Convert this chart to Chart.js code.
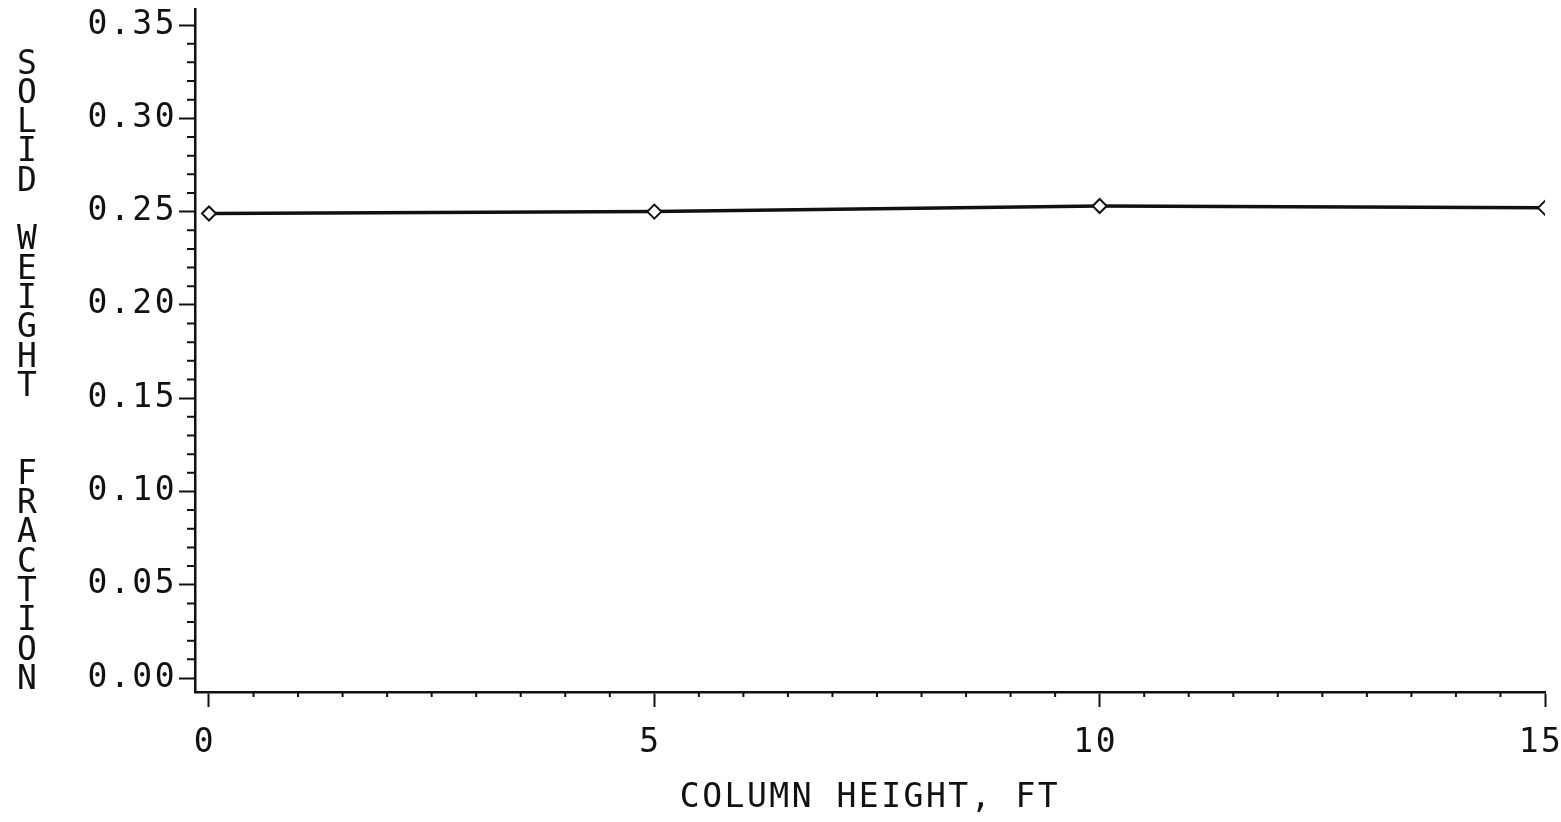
<!DOCTYPE html>
<html>
<head>
<meta charset="utf-8">
<script src="https://cdn.jsdelivr.net/npm/chart.js@4/dist/chart.umd.min.js"></script>
<style>
    html, body { margin: 0; padding: 0; background: #fff; }
    #wrap { width: 1561px; height: 822px; }
</style>
</head>
<body>
<div id="wrap"><canvas id="chart1"></canvas></div>
<script>
    'use strict';

    // values
    var columnHeight = [0, 5, 10, 15];
    var solidFraction = [0.249, 0.250, 0.253, 0.252];

    var xMajorTicks = [0, 5, 10, 15];
    var yMajorTicks = [0, 0.05, 0.10, 0.15, 0.20, 0.25, 0.30, 0.35];
    var xMinorStep = 0.5;
    var yMinorStep = 0.01;

    var yTitleRows = ['S', 'O', 'L', 'I', 'D', '', 'W', 'E', 'I', 'G', 'H', 'T', '', '',
        'F', 'R', 'A', 'C', 'T', 'I', 'O', 'N'];
    var xTitle = 'COLUMN HEIGHT, FT';

    var ink = '#111';
    var fontFamily = '"DejaVu Sans Mono", monospace';

    var points = [];
    for (var i = 0; i < columnHeight.length; i++) {
        points.push({x: columnHeight[i], y: solidFraction[i]});
    }

    function isMajor(v, list) {
        for (var k = 0; k < list.length; k++) {
            if (Math.abs(list[k] - v) < 1e-6) {
                return true;
            }
        }
        return false;
    }

    // wide plotter lettering, short minor ticks, stacked y title
    var plotterDecor = {
        id: 'plotterDecor',
        beforeDraw: function (chart) {
            chart.ctx.letterSpacing = '2.5px';
        },
        afterDraw: function (chart) {
            var ctx = chart.ctx,
                xs = chart.scales.x,
                ys = chart.scales.y,
                area = chart.chartArea,
                v, p;
            ctx.save();
            ctx.strokeStyle = ink;
            ctx.lineWidth = 2;
            ctx.beginPath();
            for (v = yMinorStep; v < 0.35 + 1e-6; v += yMinorStep) {
                if (isMajor(v, yMajorTicks)) continue;
                p = ys.getPixelForValue(v);
                ctx.moveTo(area.left - 8, p);
                ctx.lineTo(area.left, p);
            }
            for (v = xMinorStep; v < 15; v += xMinorStep) {
                if (isMajor(v, xMajorTicks)) continue;
                p = xs.getPixelForValue(v);
                ctx.moveTo(p, area.bottom);
                ctx.lineTo(p, area.bottom + 5);
            }
            ctx.stroke();

            ctx.letterSpacing = '0px';
            ctx.fillStyle = ink;
            ctx.font = '33px ' + fontFamily;
            ctx.textAlign = 'center';
            ctx.textBaseline = 'middle';
            for (var r = 0; r < yTitleRows.length; r++) {
                ctx.fillText(yTitleRows[r], 27, 65 + r * 29.3);
            }
            ctx.restore();
        }
    };

    var ctx = document.getElementById('chart1');
    new Chart(ctx, {
        type: 'line',
        data: {
            datasets: [{
                data: points,
                borderColor: ink,
                borderWidth: 3.5,
                tension: 0,
                fill: false,
                pointStyle: 'rectRot',
                pointRadius: 7,
                pointBorderWidth: 2,
                pointBorderColor: ink,
                pointBackgroundColor: '#fff'
            }]
        },
        options: {
            responsive: true,
            maintainAspectRatio: false,
            animation: false,
            layout: {
                padding: {top: 8, right: 16, left: 0, bottom: 0}
            },
            plugins: {
                legend: {display: false},
                tooltip: {enabled: false}
            },
            scales: {
                x: {
                    type: 'linear',
                    min: -0.157,
                    max: 15,
                    afterBuildTicks: function (scale) {
                        scale.ticks = xMajorTicks.map(function (v) { return {value: v}; });
                    },
                    afterFit: function (scale) {
                        scale.height = 130;
                        scale.paddingLeft = 0;
                        scale.paddingRight = 0;
                    },
                    grid: {
                        drawOnChartArea: false,
                        drawTicks: true,
                        tickLength: 15,
                        tickColor: ink,
                        tickWidth: 2
                    },
                    border: {color: ink, width: 2.5},
                    ticks: {
                        color: ink,
                        font: {family: fontFamily, size: 33},
                        padding: 17,
                        maxRotation: 0,
                        autoSkip: false,
                        labelOffset: -4,
                        callback: function (v) { return String(v); }
                    },
                    title: {
                        display: true,
                        text: xTitle,
                        color: ink,
                        font: {family: fontFamily, size: 33},
                        padding: {top: 0, bottom: 4}
                    }
                },
                y: {
                    type: 'linear',
                    min: -0.0075,
                    max: 0.3586,
                    afterBuildTicks: function (scale) {
                        scale.ticks = yMajorTicks.map(function (v) { return {value: v}; });
                    },
                    afterFit: function (scale) {
                        scale.width = 195;
                        scale.paddingTop = 0;
                        scale.paddingBottom = 0;
                    },
                    grid: {
                        drawOnChartArea: false,
                        drawTicks: true,
                        tickLength: 16,
                        tickColor: ink,
                        tickWidth: 2
                    },
                    border: {color: ink, width: 2.5},
                    ticks: {
                        color: ink,
                        font: {family: fontFamily, size: 33},
                        padding: 2,
                        autoSkip: false,
                        callback: function (v) { return Number(v).toFixed(2); }
                    }
                }
            }
        },
        plugins: [plotterDecor]
    });
</script>
</body>
</html>
